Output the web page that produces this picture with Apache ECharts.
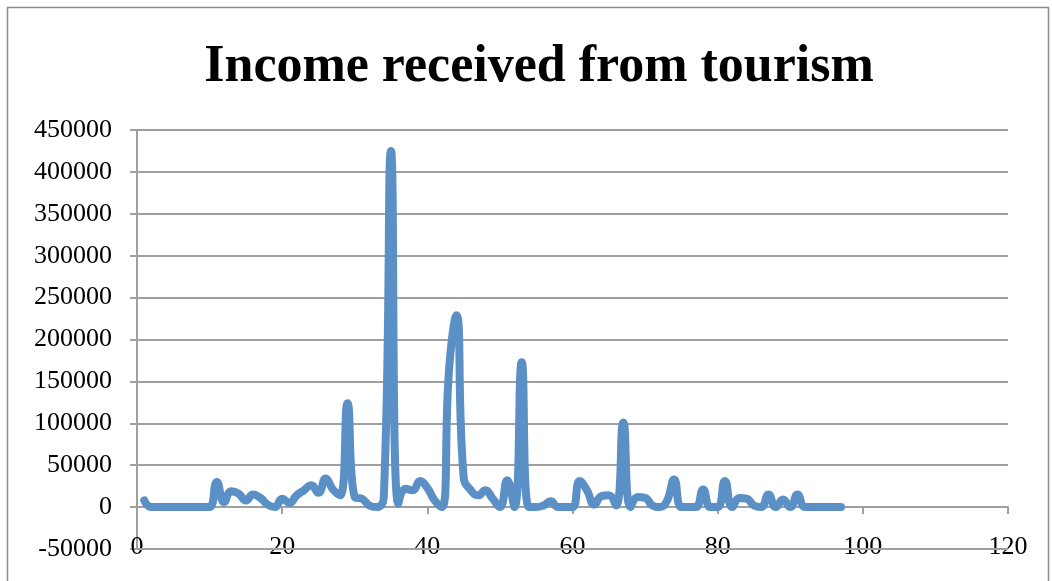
<!DOCTYPE html>
<html>
<head>
<meta charset="utf-8">
<script src="https://cdn.jsdelivr.net/npm/echarts@6/dist/echarts.min.js"></script>
<style>
  html, body { margin: 0; padding: 0; background: #ffffff; overflow: hidden; }
  #chart { width: 1052px; height: 581px; }
</style>
</head>
<body>
<div id="chart"></div>
<script>
// Income received from tourism, one value per entry (x = entry number)
const entryNumbers = [];
for (let i = 1; i <= 97; i++) entryNumbers.push(i);

const income = [
  8000, 0, 0, 0, 0, 0, 0, 0, 0, 0,
  30000, 6000, 19000, 16000, 8000, 15000, 11000, 3000, 0, 10000,
  5000, 14000, 20000, 26000, 17000, 34000, 21000, 14000, 124000, 12000,
  10000, 2000, 0, 12000, 425000, 4000, 22000, 20000, 31000, 23000,
  8000, 0, 165000, 229000, 36000, 20000, 14000, 20000, 10000, 0,
  32000, 0, 173000, 0, 0, 2000, 7000, 0, 0, 0,
  31000, 20000, 3000, 13000, 14000, 2000, 101000, 0, 12000, 11000,
  2000, 0, 7000, 33000, 0, 0, 0, 21000, 0, 0,
  31000, 0, 11000, 10000, 2000, 0, 15000, 0, 9000, 0,
  15000, 0, 0, 0, 0, 0, 0
];

const titleText = 'Income received from tourism';
const xRange = { min: 0, max: 120, step: 20 };
const yRange = { min: -50000, max: 450000, step: 50000 };

const points = entryNumbers.map((x, i) => [x, income[i]]);

const chart = echarts.init(document.getElementById('chart'), null, { renderer: 'canvas' });

const gridColor = '#a0a0a0';
const labelFont = { color: '#000000', fontFamily: 'Liberation Serif', fontSize: 26 };
const plainNumber = v => String(v);

chart.setOption({
  animation: false,
  backgroundColor: '#ffffff',
  title: {
    text: titleText,
    left: 534,
    textAlign: 'center',
    top: 37,
    textStyle: {
      fontFamily: 'Liberation Serif',
      fontWeight: 'bold',
      fontSize: 52,
      color: '#000000'
    }
  },
  graphic: [{
    type: 'rect',
    shape: { x: 7.5, y: 7.5, width: 1041, height: 620 },
    style: { fill: 'none', stroke: '#8c8c8c', lineWidth: 1.5 },
    silent: true,
    z: -1
  }],
  grid: { left: 137, right: 44, top: 130, bottom: 32, outerBoundsMode: 'none', containLabel: false },
  xAxis: {
    type: 'value',
    min: xRange.min,
    max: xRange.max,
    interval: xRange.step,
    axisLine: { show: true, onZero: true, lineStyle: { color: gridColor, width: 2 } },
    axisTick: { show: true, length: 7, lineStyle: { color: gridColor, width: 2 } },
    axisLabel: Object.assign({ margin: -15, formatter: plainNumber }, labelFont),
    splitLine: { show: false }
  },
  yAxis: {
    type: 'value',
    min: yRange.min,
    max: yRange.max,
    interval: yRange.step,
    axisLine: { show: true, onZero: false, lineStyle: { color: gridColor, width: 2 } },
    axisTick: { show: true, length: 7, lineStyle: { color: gridColor, width: 2 } },
    axisLabel: Object.assign({ margin: 25, formatter: plainNumber }, labelFont),
    splitLine: { show: true, lineStyle: { color: gridColor, width: 2 } }
  },
  series: [{
    type: 'line',
    data: points,
    smooth: 0.5,
    showSymbol: false,
    symbol: 'none',
    lineStyle: { color: '#5b90c7', width: 8, cap: 'round', join: 'round' },
    z: 5
  }, {
    // horizontal gridline at the value axis minimum (bottom edge of the plot)
    type: 'line',
    data: [[xRange.min, yRange.min], [xRange.max, yRange.min]],
    clip: false,
    showSymbol: false,
    symbol: 'none',
    silent: true,
    lineStyle: { color: gridColor, width: 2 },
    z: 1
  }]
});
</script>
</body>
</html>
